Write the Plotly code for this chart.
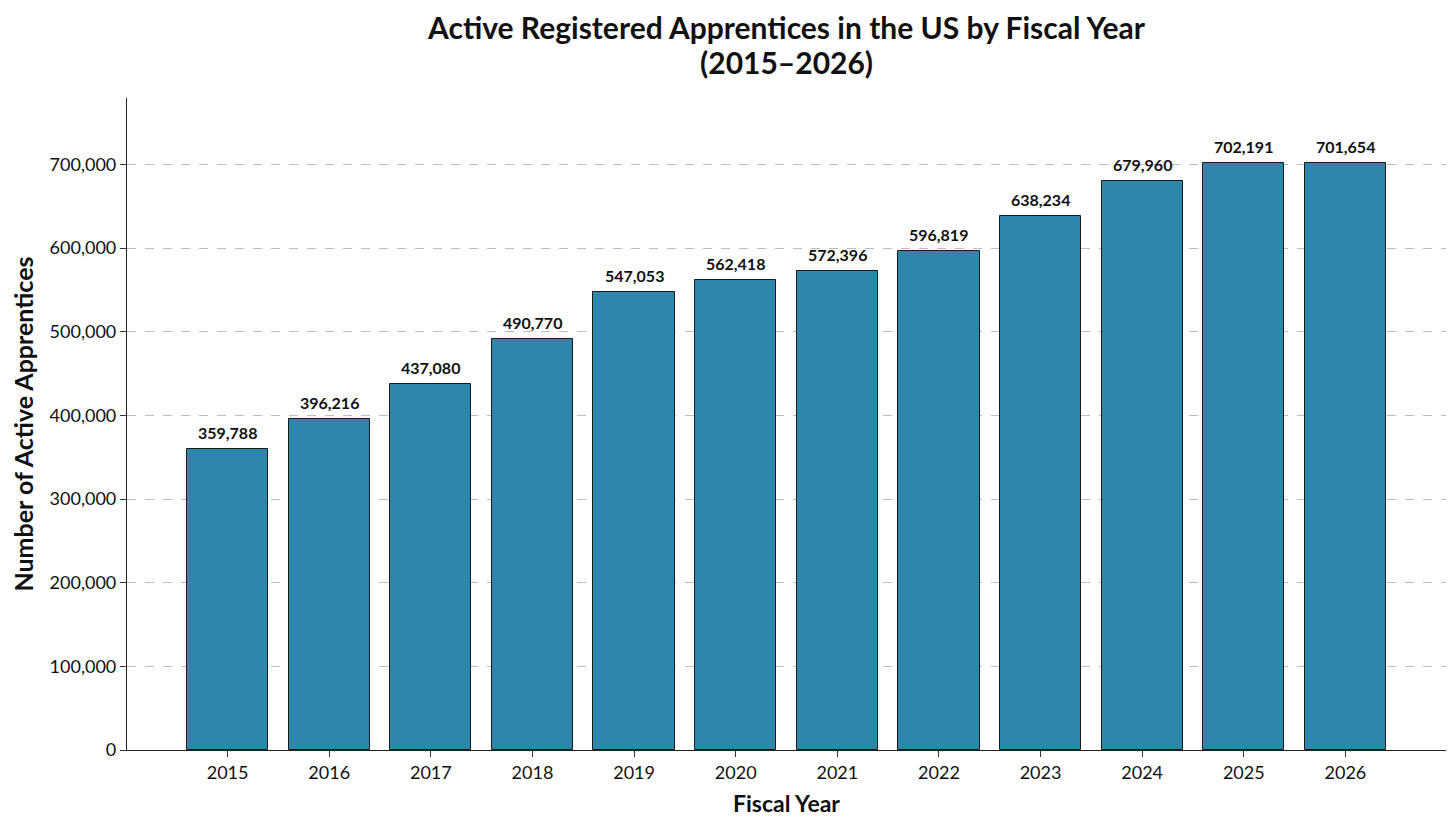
import plotly.graph_objects as go

years = [2015, 2016, 2017, 2018, 2019, 2020, 2021, 2022, 2023, 2024, 2025, 2026]
apprentices = [359788, 396216, 437080, 490770, 547053, 562418,
               572396, 596819, 638234, 679960, 702191, 701654]
y_ticks = [0, 100000, 200000, 300000, 400000, 500000, 600000, 700000]
title_lines = ["Active Registered Apprentices in the US by Fiscal Year", "(2015–2026)"]

font = "Lato"
bar_color = "#2E86AB"

fig = go.Figure()
fig.add_trace(go.Bar(
    x=years,
    y=apprentices,
    width=0.8,
    marker=dict(color=bar_color, line=dict(color="#1a1a1a", width=1)),
    hoverinfo="x+y",
))

# value labels above the bars
for yr, val in zip(years, apprentices):
    fig.add_annotation(
        x=yr, y=val, text="<b>{:,}</b>".format(val),
        showarrow=False, yanchor="bottom", yshift=5,
        font=dict(family=font, size=16, color="#111"),
    )

# title as two lines so the line spacing can be matched
for line, ypos in zip(title_lines, [1.109, 1.055]):
    fig.add_annotation(
        xref="paper", yref="paper", x=0.5, y=ypos,
        text="<b>" + line + "</b>", showarrow=False,
        xanchor="center", yanchor="middle",
        font=dict(family=font, size=30, color="#111"),
    )

# page has a small body margin, so margins are shifted to compensate
fig.update_layout(
    width=1456, height=828,
    margin=dict(l=119, r=18, t=90, b=86),
    paper_bgcolor="white", plot_bgcolor="white",
    showlegend=False,
    bargap=0,
    font=dict(family=font, size=18, color="#111"),
)

fig.update_xaxes(
    range=[2014.01, 2026.99],
    tickmode="array", tickvals=years, ticktext=[str(y) for y in years],
    ticks="outside", ticklen=6, tickcolor="#333",
    showline=True, linecolor="#222", linewidth=1.2,
    showgrid=False, zeroline=False, automargin=False,
    tickfont=dict(family=font, size=18),
    title=dict(text="<b>Fiscal Year</b>", font=dict(family=font, size=23), standoff=14),
)

fig.update_yaxes(
    range=[0, 779432],
    tickmode="array", tickvals=y_ticks,
    ticktext=["{:,}".format(v) for v in y_ticks],
    ticks="outside", ticklen=6, tickcolor="#333",
    showline=True, linecolor="#222", linewidth=1.2,
    showgrid=True, gridcolor="#bdbdbd", griddash="dash", gridwidth=1,
    zeroline=False, automargin=False,
    tickfont=dict(family=font, size=18),
    title=dict(text="<b>Number of Active Apprentices</b>", font=dict(family=font, size=25), standoff=18),
)

fig.write_html("out.html")
